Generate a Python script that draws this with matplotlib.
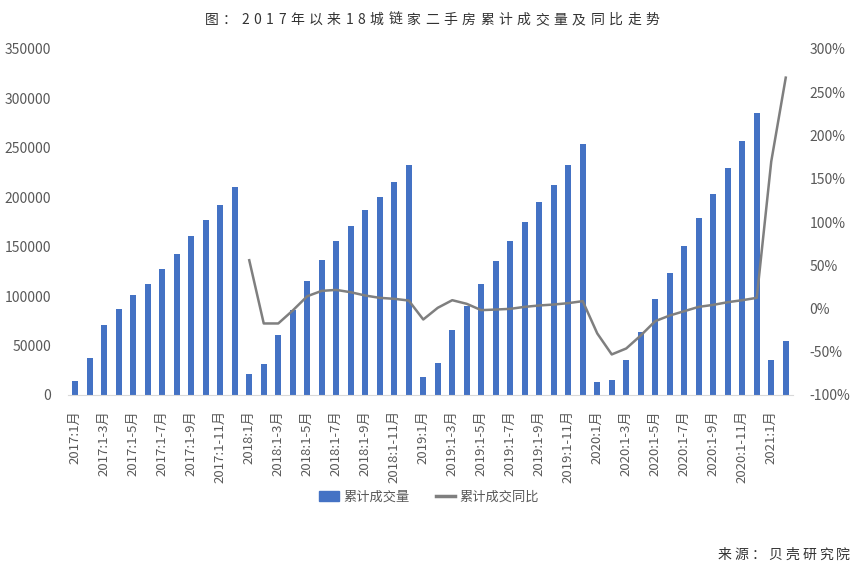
import matplotlib
matplotlib.use("Agg")
import matplotlib.pyplot as plt
import numpy as np
from matplotlib.patches import Patch
from matplotlib.lines import Line2D

plt.rcParams['font.family'] = ['Noto Sans CJK SC', 'DejaVu Sans']

years = [2017, 2018, 2019, 2020]
labels = []
for y in years:
    labels.append(f"{y}:1月")
    for m in range(2, 13):
        labels.append(f"{y}:1-{m}月")
labels += ["2021:1月", "2021:1-2月"]

volume = [14100, 37700, 71300, 87500, 101000, 112400, 127900, 143000, 161200, 176700, 192500, 210600,
          20900, 31300, 60200, 85500, 115100, 136600, 155500, 171300, 187100, 200600, 215000, 232500,
          18500, 32000, 65300, 90500, 112700, 135300, 156100, 175300, 195200, 212000, 232500, 254100,
          13100, 14800, 35300, 63300, 96900, 123800, 151100, 179400, 203600, 229200, 256800, 285700,
          35700, 54500]

yoy = [None] * 12 + [55.8, -17.3, -17.3, -2.3, 14.2, 20.4, 21.5, 18.8, 15.0, 12.3, 11.2, 9.2,
                     -12.7, 0.8, 9.6, 5.4, -1.9, -1.2, -0.4, 1.9, 3.5, 4.6, 6.2, 8.5,
                     -28.8, -53.1, -46.2, -31.2, -14.6, -8.1, -3.1, 1.9, 4.2, 7.3, 9.6, 12.3,
                     170.0, 266.9]

title = "图：2017年以来18城链家二手房累计成交量及同比走势"
source = "来源：贝壳研究院"
bar_name = "累计成交量"
line_name = "累计成交同比"

blue = "#4472C4"
grey_line = "#7F7F7F"
txt = "#595959"

fig = plt.figure(figsize=(8.58, 5.70), dpi=100)
ax = fig.add_axes([68 / 858, 175 / 570, (793 - 68) / 858, 346 / 570])
x = np.arange(len(volume))
ax.bar(x, volume, width=0.42, color=blue, zorder=2)
ax.set_xlim(-0.5, len(volume) - 0.5)
ax.set_ylim(0, 350000)
ax.set_yticks(np.arange(0, 350001, 50000))
ax.set_yticklabels([f"{v}" for v in range(0, 350001, 50000)])
ax.set_xticks(x[::2])
ax.set_xticklabels(labels[::2], rotation=90, va='top', ha='center')
for s in ['top', 'right', 'left']:
    ax.spines[s].set_visible(False)
ax.spines['bottom'].set_color('#D9D9D9')
ax.tick_params(axis='x', length=0, pad=11, labelsize=9.5, colors=txt)
ax.tick_params(axis='y', length=0, pad=12, labelsize=10, colors=txt)

ax2 = ax.twinx()
yv = np.array([np.nan if v is None else v for v in yoy], dtype=float)
ax2.plot(x, yv, color=grey_line, lw=1.8, zorder=3)
ax2.set_ylim(-100, 300)
ax2.set_yticks(np.arange(-100, 301, 50))
ax2.set_yticklabels([f"{v}%" for v in range(-100, 301, 50)])
for s in ['top', 'right', 'left', 'bottom']:
    ax2.spines[s].set_visible(False)
ax2.tick_params(axis='y', length=0, pad=12, labelsize=10, colors=txt)

handles = [Patch(facecolor=blue, edgecolor=blue), Line2D([0], [0], color=grey_line, lw=2.5)]
fig.legend(handles, [bar_name, line_name], loc='center', bbox_to_anchor=(0.5, 1 - 497 / 570),
           ncol=2, frameon=False, fontsize=9.5, labelcolor=txt, handlelength=1.5,
           handletextpad=0.3, columnspacing=2.0)


def spaced_text(s, x_left, y_center, spacing_px, **kw):
    renderer = fig.canvas.get_renderer()
    texts = []
    cur = x_left
    for ch in s:
        t = fig.text(cur / 858, y_center, ch, ha='left', va='center', **kw)
        w = t.get_window_extent(renderer).width
        texts.append(t)
        cur += w + spacing_px
    return cur - spacing_px


# measure total width then center
renderer = fig.canvas.get_renderer()
tmp = []
total = 0
for ch in title:
    t = fig.text(0, 0, ch, fontsize=10, color='#333333')
    total += t.get_window_extent(renderer).width
    tmp.append(t)
for t in tmp:
    t.remove()
spacing = 4.5
total += spacing * (len(title) - 1)
spaced_text(title, 432 - total / 2, 1 - 20 / 570, spacing, fontsize=10, color='#333333')

src_w = 0
tmp = []
for ch in source:
    t = fig.text(0, 0, ch, fontsize=10, color='#333333')
    src_w += t.get_window_extent(renderer).width
    tmp.append(t)
for t in tmp:
    t.remove()
src_sp = 3
src_w += src_sp * (len(source) - 1)
spaced_text(source, 850 - src_w, 1 - 555 / 570, src_sp, fontsize=10, color='#333333')

fig.savefig("out.png", dpi=100, facecolor='white')
